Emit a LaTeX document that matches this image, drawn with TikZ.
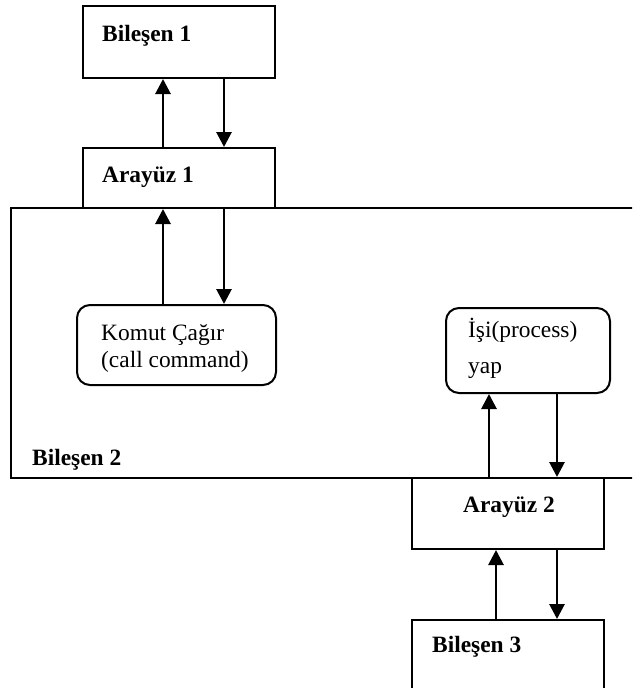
\documentclass[tikz,border=0pt]{standalone}
\usepackage{fontspec}
\setmainfont{Liberation Serif}
\usetikzlibrary{arrows.meta}
\begin{document}
\begin{tikzpicture}[x=1pt,y=-1pt,
  box/.style={draw,line width=2pt,rectangle,inner sep=0pt,anchor=north west},
  rbox/.style={box,rounded corners=13pt},
  arr/.style={line width=2.8pt,-{Triangle[width=15pt,length=15pt]}},
  lbl/.style={inner sep=0pt,anchor=base west,font=\fontsize{23.4}{27}\selectfont},
  blbl/.style={lbl,font=\fontsize{23.4}{27}\selectfont\bfseries}]
\useasboundingbox (0,0) rectangle (632,688);
\clip (0,0) rectangle (632,688);
% boxes
\node[box,minimum width=192pt,minimum height=72pt] (b1) at (82,5) {};
\node[box,minimum width=192pt,minimum height=60pt] (a1) at (82,147) {};
\node[box,minimum width=640pt,minimum height=270pt] (b2) at (10,207) {};
\node[rbox,minimum width=199pt,minimum height=80pt] (k) at (76,304) {};
\node[rbox,minimum width=164pt,minimum height=85pt] (p) at (445,307) {};
\node[box,minimum width=192pt,minimum height=71pt] (a2) at (411,477) {};
\node[box,minimum width=192pt,minimum height=90pt] (b3) at (411,619) {};
% texts
\node[blbl] (t1) at (102,41) {Bileşen 1};
\node[blbl] (t2) at (102,182) {Arayüz 1};
\node[lbl] (t3) at (101,340) {Komut Çağır};
\node[lbl] (t4) at (101,367) {(call command)};
\node[lbl] (t5) at (468,337) {İşi(process)};
\node[lbl] (t6) at (468,373) {yap};
\node[blbl] (t7) at (32,465) {Bileşen 2};
\node[blbl] (t8) at (463,512) {Arayüz 2};
\node[blbl] (t9) at (432,652) {Bileşen 3};
% connectors
\coordinate (xa) at (163,0);
\coordinate (xb) at (224,0);
\coordinate (xc) at (489,0);
\coordinate (xd) at (557,0);
\coordinate (xe) at (496,0);
\draw[arr] (a1.north -| xa) -- (b1.south -| xa);
\draw[arr] (b1.south -| xb) -- (a1.north -| xb);
\draw[arr] (k.north -| xa) -- (a1.south -| xa);
\draw[arr] (a1.south -| xb) -- (k.north -| xb);
\draw[arr] (a2.north -| xc) -- (p.south -| xc);
\draw[arr] (p.south -| xd) -- (a2.north -| xd);
\draw[arr] (b3.north -| xe) -- (a2.south -| xe);
\draw[arr] (a2.south -| xd) -- (b3.north -| xd);
\end{tikzpicture}
\end{document}
